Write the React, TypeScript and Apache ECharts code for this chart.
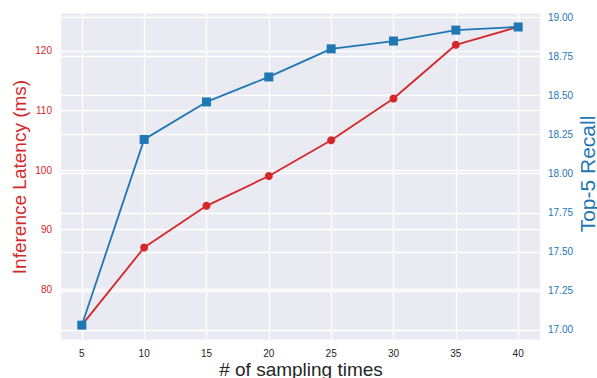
import { useEffect, useRef } from "react";
import * as echarts from "echarts";

const samplingTimes = [5, 10, 15, 20, 25, 30, 35, 40];
const latencyMs = [74, 87, 94, 99, 105, 112, 121, 124];
const top5Recall = [17.03, 18.22, 18.46, 18.62, 18.8, 18.85, 18.92, 18.94];

const xLabel = "# of sampling times";
const leftLabel = "Inference Latency (ms)";
const rightLabel = "Top-5 Recall";

const RED = "#d62728";
const BLUE = "#1f77b4";
const FONT = "Liberation Sans, Arial, sans-serif";

export default function App() {
  const ref = useRef<HTMLDivElement>(null);
  useEffect(() => {
    if (!ref.current) return;
    const chart = echarts.init(ref.current, null, { renderer: "svg" });
    const split = { show: true, lineStyle: { color: "#ffffff", width: 1.3 } };
    chart.setOption({
      animation: false,
      textStyle: { fontFamily: FONT },
      grid: { left: 60, right: 57, top: 12, bottom: 38, show: true, backgroundColor: "#eaeaf2", borderWidth: 0 },
      xAxis: {
        type: "value",
        min: 3.25,
        max: 41.75,
        minInterval: 5,
        maxInterval: 5,
        axisLine: { show: false },
        axisTick: { show: false },
        splitLine: split,
        axisLabel: { color: "#262626", fontSize: 10, margin: 8, showMinLabel: false, showMaxLabel: false, fontFamily: FONT },
      },
      yAxis: [
        {
          type: "value",
          position: "left",
          min: 71.5,
          max: 126.5,
          minInterval: 10,
          maxInterval: 10,
          axisLine: { show: false },
          axisTick: { show: false },
          splitLine: split,
          axisLabel: { color: RED, fontSize: 10, margin: 8, showMinLabel: false, showMaxLabel: false, fontFamily: FONT },
        },
        {
          type: "value",
          position: "right",
          min: 16.935,
          max: 19.036,
          minInterval: 0.25,
          maxInterval: 0.25,
          axisLine: { show: false },
          axisTick: { show: false },
          splitLine: split,
          axisLabel: {
            color: BLUE,
            fontSize: 10,
            margin: 8,
            showMinLabel: false,
            showMaxLabel: false,
            fontFamily: FONT,
            formatter: (v: number) => v.toFixed(2),
          },
        },
      ],
      graphic: [
        {
          type: "text",
          x: 19,
          y: 177,
          rotation: Math.PI / 2,
          style: { text: leftLabel, fill: RED, font: `19px ${FONT}`, textAlign: "center", textVerticalAlign: "middle" },
        },
        {
          type: "text",
          x: 587,
          y: 174,
          rotation: Math.PI / 2,
          style: { text: rightLabel, fill: BLUE, font: `21px ${FONT}`, textAlign: "center", textVerticalAlign: "middle" },
        },
        {
          type: "text",
          x: 301,
          y: 369,
          style: { text: xLabel, fill: "#262626", font: `19px ${FONT}`, textAlign: "center", textVerticalAlign: "middle" },
        },
      ],
      series: [
        {
          type: "line",
          yAxisIndex: 0,
          data: samplingTimes.map((x, i) => [x, latencyMs[i]]),
          symbol: "circle",
          symbolSize: 8,
          showAllSymbol: true,
          lineStyle: { color: RED, width: 1.8 },
          itemStyle: { color: RED },
          z: 2,
        },
        {
          type: "line",
          yAxisIndex: 1,
          data: samplingTimes.map((x, i) => [x, top5Recall[i]]),
          symbol: "rect",
          symbolSize: 9,
          showAllSymbol: true,
          lineStyle: { color: BLUE, width: 1.8 },
          itemStyle: { color: BLUE },
          z: 3,
        },
      ],
    });
    return () => chart.dispose();
  }, []);
  return <div ref={ref} style={{ width: 597, height: 378, position: "absolute", left: 0, top: 0 }} />;
}
